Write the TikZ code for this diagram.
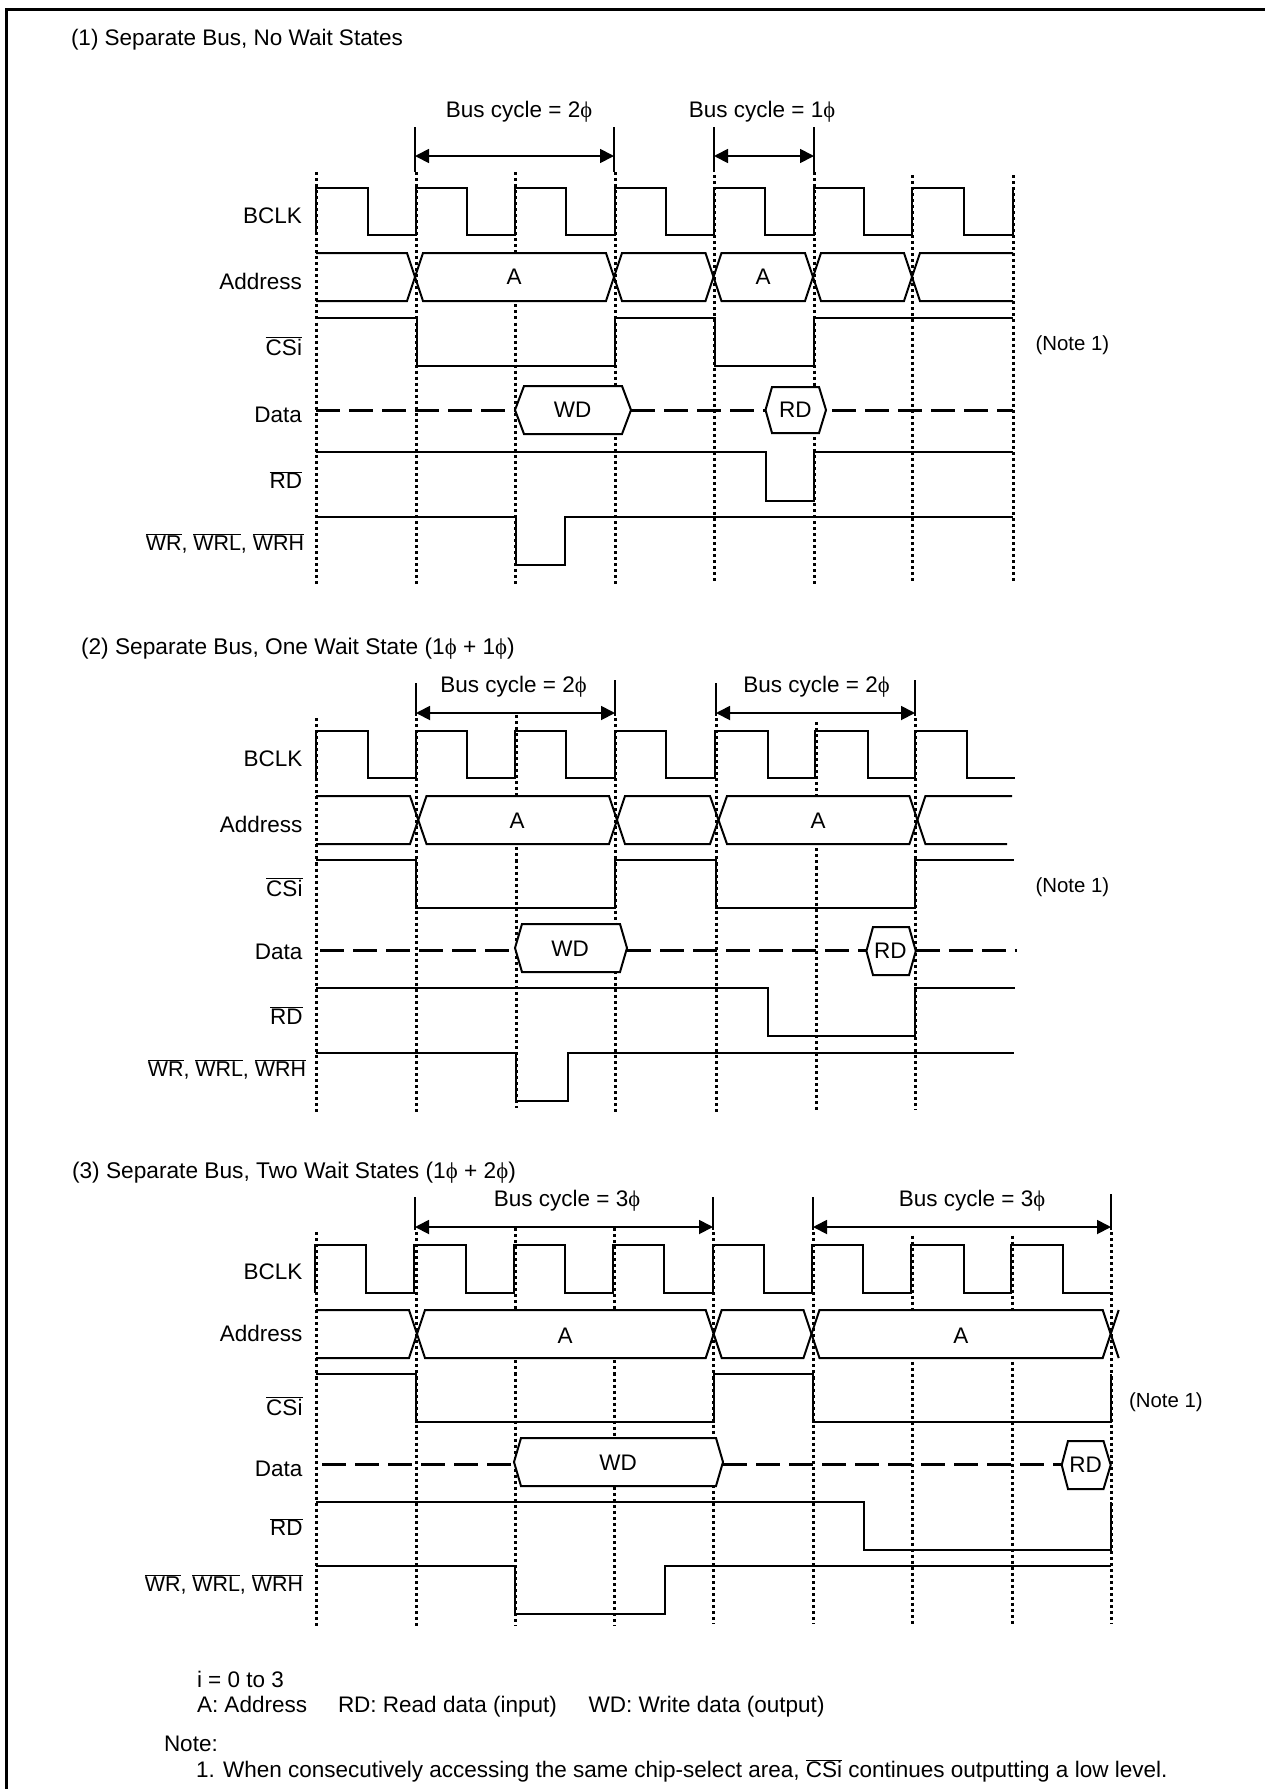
\documentclass[tikz,border=0pt]{standalone}
\usepackage{fontspec}
\setmainfont{Liberation Sans}
\usetikzlibrary{arrows.meta}
\newcommand{\ph}{{\fontspec{Liberation Serif}\symbol{"03D5}}}
\newcommand{\ovl}[1]{$\overline{\hbox{#1}}$}
\tikzset{
  sig/.style={line width=2pt,line join=miter,line cap=butt},
  grid/.style={line width=3pt,dash pattern=on 3.01pt off 3.01pt,black},
  ext/.style={line width=1.6pt},
  dim/.style={line width=1.8pt,{Triangle[length=14pt,width=14pt]}-{Triangle[length=14pt,width=14pt]}},
  dat/.style={line width=3pt,dash pattern=on 24pt off 9pt},
  hexa/.style={line width=2pt,line join=miter},
  txt/.style={font=\fontsize{22.5}{26}\selectfont,inner sep=0pt,outer sep=0pt},
  lab/.style={txt,anchor=east},
  wrl/.style={lab,font=\fontsize{21.4}{26}\selectfont},
  ttl/.style={txt,anchor=west},
  ttlb/.style={ttl,font=\fontsize{22.7}{26}\selectfont},
  nte/.style={txt,anchor=west,font=\fontsize{20.4}{24}\selectfont},
}
\begin{document}
\begin{tikzpicture}[x=1pt,y=-1pt]
\useasboundingbox (0,0) rectangle (1265,1789);
\fill[white] (0,0) rectangle (1265,1789);
% frame
\draw[line width=3pt] (6.5,1789) -- (6.5,9.5) -- (1265,9.5);

%=== Panel 1
\node[ttl] (t1) at (71,39.5) {(1) Separate Bus, No Wait States};
\foreach \x/\a in {316/172,416/172,515/172,615/172,714/175,814/172,912/175,1013/175}
  \draw[grid] (\x,\a) -- (\x,584);
\fill[white] (423,254) rectangle (606,300);
\draw[ext] (415,127) -- (415,172) (614,127) -- (614,172) (714,127) -- (714,172) (814,127) -- (814,172);
\draw[dim] (415,156) -- (614,156);
\draw[dim] (714,156) -- (814,156);
\node[txt] (c11) at (519,111.5) {Bus cycle = 2\ph};
\node[txt] (c12) at (762,111.5) {Bus cycle = 1\ph};
\node[lab] (l11) at (302,216) {BCLK};
\node[lab] (l12) at (302,281) {Address};
\node[lab] (l13) at (302,346) {\ovl{CSi}};
\node[lab] (l14) at (302,415) {Data};
\node[lab] (l15) at (302,480) {\ovl{RD}};
\node[wrl] (l16) at (304,543.5) {\ovl{WR}, \ovl{WRL}, \ovl{WRH}};
\node[nte] (n1) at (1035.5,345) {(Note 1)};
\draw[sig] (316,235) -- (316,188) -- (368,188) -- (368,235) -- (416,235) -- (416,188) -- (467,188) -- (467,235) -- (515,235) -- (515,188) -- (566,188) -- (566,235) -- (615,235) -- (615,188) -- (666,188) -- (666,235) -- (714,235) -- (714,188) -- (765,188) -- (765,235) -- (814,235) -- (814,188) -- (864,188) -- (864,235) -- (912,235) -- (912,188) -- (964,188) -- (964,235) -- (1013,235) -- (1013,188);
\draw[sig] (316,253) -- (407,253) -- (423,301) -- (606,301) -- (622,253) -- (705.5,253) -- (721.5,301) -- (805,301) -- (821,253) -- (904,253) -- (920,301) -- (1013,301);
\draw[sig] (316,301) -- (407,301) -- (423,253) -- (606,253) -- (622,301) -- (705.5,301) -- (721.5,253) -- (805,253) -- (821,301) -- (904,301) -- (920,253) -- (1013,253);
\node[txt] (a11) at (514,277) {A};
\node[txt] (a12) at (763,277) {A};
\draw[sig] (316,318) -- (417,318) -- (417,366) -- (615,366) -- (615,318) -- (715,318) -- (715,366) -- (814,366) -- (814,318) -- (1013,318);
\draw[dat] (316,410) -- (515,410);
\draw[dat] (631,410) -- (765.5,410);
\draw[dat] (832,410) -- (1013,410);
\draw[hexa,fill=white] (515,410) -- (524,386) -- (622,386) -- (631,410) -- (622,434) -- (524,434) -- cycle;
\node[txt] (d11) at (572.6,410) {WD};
\draw[hexa,fill=white] (765.5,410) -- (772,387) -- (819,387) -- (826,410) -- (819,433) -- (772,433) -- cycle;
\node[txt] (d12) at (795.4,410) {RD};
\draw[sig] (316,452) -- (766,452) -- (766,501) -- (814,501) -- (814,452) -- (1013,452);
\draw[sig] (316,517) -- (516,517) -- (516,565) -- (565,565) -- (565,517) -- (1013,517);

%=== Panel 2
\node[ttlb] (t2) at (81,648.5) {(2) Separate Bus, One Wait State (1\ph{} + 1\ph)};
\foreach \x/\a/\b in {316/718/1112,416/718/1112,516/715/1108,615/718/1112,716/718/1112,816/722/1110,915/718/1110}
  \draw[grid] (\x,\a) -- (\x,\b);
\fill[white] (427,797) rectangle (609,843);
\fill[white] (727,797) rectangle (909,843);
\draw[ext] (416,683) -- (416,716) (615,680) -- (615,716) (716,683) -- (716,716) (915,680) -- (915,716);
\draw[dim] (416,713) -- (615,713);
\draw[dim] (716,713) -- (915,713);
\node[txt] (c21) at (513.5,686.5) {Bus cycle = 2\ph};
\node[txt] (c22) at (816.5,686.5) {Bus cycle = 2\ph};
\node[lab] (l21) at (302.5,758.6) {BCLK};
\node[lab] (l22) at (302.5,824) {Address};
\node[lab] (l23) at (302.5,887) {\ovl{CSi}};
\node[lab] (l24) at (302.5,952) {Data};
\node[lab] (l25) at (302.5,1015.5) {\ovl{RD}};
\node[wrl] (l26) at (306,1069.5) {\ovl{WR}, \ovl{WRL}, \ovl{WRH}};
\node[nte] (n2) at (1035.5,887) {(Note 1)};
\draw[sig] (316,778) -- (316,731) -- (368,731) -- (368,778) -- (416,778) -- (416,731) -- (467,731) -- (467,778) -- (515,778) -- (515,731) -- (566,731) -- (566,778) -- (615,778) -- (615,731) -- (666,731) -- (666,778) -- (715,778) -- (715,731) -- (768,731) -- (768,778) -- (815,778) -- (815,731) -- (868,731) -- (868,778) -- (915,778) -- (915,731) -- (967,731) -- (967,778) -- (1015,778);
\draw[sig] (316,796) -- (410,796) -- (426.5,844) -- (609,844) -- (625,796) -- (710,796) -- (727,844) -- (909.4,844) -- (925.4,796) -- (1012,796);
\draw[sig] (316,844) -- (410,844) -- (426.5,796) -- (609,796) -- (625,844) -- (710,844) -- (727,796) -- (909.4,796) -- (925.4,844) -- (1007,844);
\node[txt] (a21) at (517,820.7) {A};
\node[txt] (a22) at (818,820.7) {A};
\draw[sig] (316,860) -- (416,860) -- (416,908) -- (615,908) -- (615,860) -- (716,860) -- (716,908) -- (915,908) -- (915,860) -- (1013.5,860);
\draw[dat] (320.4,950) -- (515,950);
\draw[dat] (627.3,950) -- (866.4,950);
\draw[dat] (915.8,950) -- (1017,950);
\draw[hexa,fill=white] (515,948) -- (522,924) -- (620,924) -- (627,948) -- (620,972) -- (522,972) -- cycle;
\node[txt] (d21) at (570,949) {WD};
\draw[hexa,fill=white] (866.4,951) -- (873,927) -- (909,927) -- (915.8,951) -- (909,975) -- (873,975) -- cycle;
\node[txt] (d22) at (890.3,951) {RD};
\draw[sig] (316,988) -- (768,988) -- (768,1036) -- (915,1036) -- (915,988) -- (1015,988);
\draw[sig] (316,1053) -- (516,1053) -- (516,1101) -- (568,1101) -- (568,1053) -- (1013.5,1053);

%=== Panel 3
\node[ttlb] (t3) at (72,1172.5) {(3) Separate Bus, Two Wait States (1\ph{} + 2\ph)};
\foreach \x/\a/\b in {316/1232/1626,416/1232/1626,515/1228/1626,614/1228/1626,713/1232/1624,813/1232/1624,912/1235.5/1624,1012/1235.5/1624,1111/1232/1624}
  \draw[grid] (\x,\a) -- (\x,\b);
\fill[white] (425,1311) rectangle (706,1357);
\fill[white] (820,1311) rectangle (1103,1357);
\draw[ext] (415,1197) -- (415,1230) (713,1197) -- (713,1230) (813,1197) -- (813,1230) (1111,1194) -- (1111,1230);
\draw[dim] (415,1227) -- (713,1227);
\draw[dim] (813,1227) -- (1111,1227);
\node[txt] (c31) at (567,1200.9) {Bus cycle = 3\ph};
\node[txt] (c32) at (972,1200.9) {Bus cycle = 3\ph};
\node[lab] (l31) at (302.5,1272) {BCLK};
\node[lab] (l32) at (302.5,1333.4) {Address};
\node[lab] (l33) at (302.5,1406) {\ovl{CSi}};
\node[lab] (l34) at (302.5,1469) {Data};
\node[lab] (l35) at (302.5,1526.9) {\ovl{RD}};
\node[wrl] (l36) at (303,1584.4) {\ovl{WR}, \ovl{WRL}, \ovl{WRH}};
\node[nte] (n3) at (1129,1402) {(Note 1)};
\draw[sig] (315,1293) -- (315,1245) -- (366,1245) -- (366,1293) -- (414,1293) -- (414,1245) -- (466,1245) -- (466,1293) -- (514,1293) -- (514,1245) -- (565,1245) -- (565,1293) -- (613,1293) -- (613,1245) -- (664,1245) -- (664,1293) -- (713,1293) -- (713,1245) -- (764,1245) -- (764,1293) -- (812,1293) -- (812,1245) -- (863,1245) -- (863,1293) -- (911,1293) -- (911,1245) -- (964,1245) -- (964,1293) -- (1011,1293) -- (1011,1245) -- (1063,1245) -- (1063,1293) -- (1110,1293);
\draw[sig] (316,1310) -- (409,1310) -- (425,1358) -- (705.7,1358) -- (721.7,1310) -- (803.5,1310) -- (819.5,1358) -- (1102.7,1358) -- (1118.7,1310);
\draw[sig] (316,1358) -- (409,1358) -- (425,1310) -- (705.7,1310) -- (721.7,1358) -- (803.5,1358) -- (819.5,1310) -- (1102.7,1310) -- (1118.7,1358);
\node[txt] (a31) at (565,1335.7) {A};
\node[txt] (a32) at (960.8,1335.7) {A};
\draw[sig] (316,1374) -- (416,1374) -- (416,1422) -- (714,1422) -- (714,1374) -- (813,1374) -- (813,1422) -- (1111,1422) -- (1111,1374);
\draw[dat] (322,1464) -- (514,1464);
\draw[dat] (723.3,1464) -- (1061.7,1464);
\draw[hexa,fill=white] (514,1462) -- (521,1438) -- (716,1438) -- (723,1462) -- (716,1486) -- (521,1486) -- cycle;
\node[txt] (d31) at (618,1462.4) {WD};
\draw[hexa,fill=white] (1061.7,1465) -- (1068,1441) -- (1103.5,1441) -- (1110.7,1465) -- (1103.5,1489) -- (1068,1489) -- cycle;
\node[txt] (d32) at (1085.6,1465) {RD};
\draw[sig] (316,1502) -- (864,1502) -- (864,1550) -- (1111,1550) -- (1111,1502);
\draw[sig] (316,1566) -- (515,1566) -- (515,1614) -- (665,1614) -- (665,1566) -- (1111,1566);

%=== Legend
\node[ttl] (b1) at (197,1679) {i = 0 to 3};
\node[ttl] (b2) at (197,1704) {A: Address};
\node[ttl] (b3) at (338,1707) {RD: Read data (input)};
\node[ttl] (b4) at (588.6,1707) {WD: Write data (output)};
\node[ttl] (b5) at (164,1744) {Note:};
\node[ttl] (b6) at (196,1771) {1. When consecutively accessing the same chip-select area, \ovl{CSi} continues outputting a low level.};
\end{tikzpicture}
\end{document}
